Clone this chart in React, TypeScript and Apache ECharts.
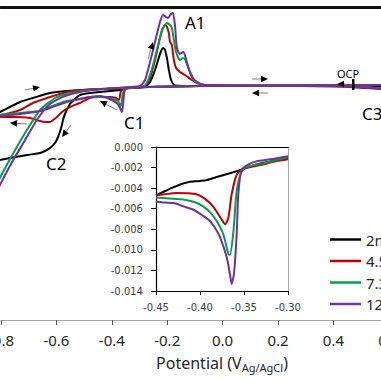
import React, { useEffect, useRef } from "react";
import * as echarts from "echarts";

// ---------- data ----------
const seriesNames = ["2mM", "4.5mM", "7.3mM", "12mM"];
const seriesColors = ["#000000", "#C00000", "#00A04B", "#7030A0"];

const mainXTicks = [-0.8, -0.6, -0.4, -0.2, 0.0, 0.2, 0.4, 0.6];
const insetXTicks = [-0.45, -0.4, -0.35, -0.3];
const insetYTicks = [-0.014, -0.012, -0.01, -0.008, -0.006, -0.004, -0.002, 0.0];

// main CV loops [potential V, current], cathodic sweep then anodic sweep
const loop2 = [
  [0.6, -0.001], [0.572, -0.001], [0.514, -0.0008], [0.28, -0.0005], [-0.082, -0.0005],
  [-0.262, -0.001], [-0.334, -0.0015], [-0.37, -0.0025], [-0.443, -0.0035], [-0.479, -0.004],
  [-0.515, -0.005], [-0.533, -0.007], [-0.551, -0.0095], [-0.569, -0.0145], [-0.576, -0.0175],
  [-0.583, -0.0215], [-0.594, -0.026], [-0.605, -0.029], [-0.623, -0.0315], [-0.641, -0.033],
  [-0.659, -0.034], [-0.706, -0.035], [-0.768, -0.0365], [-0.804, -0.0375], [-0.822, -0.038],
  [-0.822, -0.014], [-0.804, -0.0135], [-0.768, -0.011], [-0.731, -0.0085], [-0.685, -0.0065],
  [-0.623, -0.004], [-0.562, -0.003], [-0.443, -0.002], [-0.323, -0.0015], [-0.28, -0.001],
  [-0.262, 0.0015], [-0.244, 0.0075], [-0.233, 0.0125], [-0.222, 0.017], [-0.215, 0.0185],
  [-0.208, 0.0175], [-0.201, 0.0135], [-0.194, 0.0075], [-0.186, 0.0025], [-0.172, -0.00025],
  [-0.082, -0.0005], [0.28, -0.00025], [0.6, 0],
];
const loop45 = [
  [0.6, -0.002], [0.572, -0.002], [0.514, -0.0015], [0.424, -0.00075], [0.28, -0.0005],
  [-0.082, -0.0005], [-0.262, -0.001], [-0.352, -0.0015], [-0.367, -0.003], [-0.374, -0.0075],
  [-0.385, -0.0065], [-0.407, -0.006], [-0.443, -0.006], [-0.479, -0.0065], [-0.515, -0.009],
  [-0.551, -0.011], [-0.58, -0.0135], [-0.598, -0.016], [-0.612, -0.0175], [-0.623, -0.0185],
  [-0.641, -0.0185], [-0.659, -0.018], [-0.695, -0.0165], [-0.757, -0.016], [-0.804, -0.016],
  [-0.822, -0.016],
  [-0.822, -0.015], [-0.804, -0.015], [-0.731, -0.0125], [-0.685, -0.009], [-0.623, -0.006],
  [-0.562, -0.0035], [-0.504, -0.0025], [-0.443, -0.002], [-0.334, -0.0015], [-0.28, -0.0005],
  [-0.262, 0.0035], [-0.244, 0.0125], [-0.226, 0.0235], [-0.215, 0.0285], [-0.208, 0.03],
  [-0.201, 0.029], [-0.194, 0.026], [-0.19, 0.0215], [-0.183, 0.02], [-0.176, 0.0125],
  [-0.168, 0.0085], [-0.154, 0.0065], [-0.136, 0.005], [-0.111, 0.0025], [-0.092, 0.001],
  [-0.064, 0], [0.28, -0.00025], [0.6, 0],
];
const loop73 = [
  [0.6, -0.0015], [0.572, -0.0015], [0.514, -0.001], [0.424, -0.0005], [0.28, -0.0005],
  [-0.082, -0.0005], [-0.262, -0.001], [-0.349, -0.0015], [-0.36, -0.004], [-0.367, -0.0105],
  [-0.378, -0.008], [-0.407, -0.0065], [-0.443, -0.006], [-0.479, -0.006], [-0.515, -0.007],
  [-0.562, -0.008], [-0.605, -0.01], [-0.641, -0.012], [-0.659, -0.013], [-0.695, -0.0135],
  [-0.731, -0.014], [-0.804, -0.015], [-0.822, -0.0155],
  [-0.822, -0.0525], [-0.804, -0.0465], [-0.749, -0.0325], [-0.702, -0.0215], [-0.659, -0.0125],
  [-0.605, -0.0065], [-0.551, -0.004], [-0.479, -0.0025], [-0.37, -0.0015], [-0.287, -0.001],
  [-0.269, 0.0025], [-0.251, 0.01], [-0.233, 0.02], [-0.219, 0.0275], [-0.208, 0.03],
  [-0.201, 0.031], [-0.19, 0.03], [-0.183, 0.0285], [-0.176, 0.0225], [-0.168, 0.0165],
  [-0.154, 0.0125], [-0.143, 0.0135], [-0.136, 0.013], [-0.125, 0.009], [-0.107, 0.0035],
  [-0.092, 0.001], [-0.064, 0], [0.28, -0.00025], [0.6, 0],
];
const loop12 = [
  [0.6, -0.0015], [0.572, -0.00175], [0.514, -0.00125], [0.424, -0.0005], [0.28, -0.0005],
  [-0.082, -0.0005], [-0.262, -0.001], [-0.349, -0.0015], [-0.356, -0.005], [-0.363, -0.0135],
  [-0.378, -0.0095], [-0.407, -0.007], [-0.443, -0.0055], [-0.479, -0.006], [-0.515, -0.007],
  [-0.562, -0.0085], [-0.623, -0.0115], [-0.659, -0.013], [-0.731, -0.0145], [-0.804, -0.0155],
  [-0.822, -0.016],
  [-0.822, -0.055], [-0.804, -0.05], [-0.76, -0.0385], [-0.713, -0.0275], [-0.666, -0.0165],
  [-0.623, -0.0095], [-0.569, -0.0055], [-0.497, -0.003], [-0.388, -0.0015], [-0.298, -0.0005],
  [-0.28, 0.0025], [-0.262, 0.0115], [-0.244, 0.0215], [-0.226, 0.0315], [-0.215, 0.035],
  [-0.204, 0.034], [-0.197, 0.0335], [-0.186, 0.0355], [-0.179, 0.036], [-0.172, 0.03],
  [-0.165, 0.0185], [-0.154, 0.0155], [-0.143, 0.0165], [-0.136, 0.015], [-0.125, 0.0095],
  [-0.111, 0.004], [-0.092, 0.0015], [-0.064, 0], [0.28, -0.00025], [0.6, 0],
];

// inset (C1 region)
const inset2 = [
  [-0.45, -0.0047], [-0.44, -0.0043], [-0.43, -0.0039], [-0.415, -0.00345], [-0.4, -0.0033],
  [-0.392, -0.0032], [-0.38, -0.0029], [-0.366, -0.00255], [-0.353, -0.0022], [-0.336, -0.0017],
  [-0.32, -0.0014], [-0.3, -0.0011],
];
const inset45 = [
  [-0.45, -0.0047], [-0.44, -0.0046], [-0.427, -0.00447], [-0.415, -0.0045], [-0.404, -0.0046],
  [-0.395, -0.005], [-0.385, -0.0058], [-0.3754, -0.00705], [-0.3716, -0.0075], [-0.3678, -0.0069],
  [-0.364, -0.0046], [-0.3583, -0.0027], [-0.351, -0.0021], [-0.34, -0.0019], [-0.328, -0.0017],
  [-0.315, -0.0014], [-0.3, -0.0012],
];
const inset73 = [
  [-0.45, -0.0049], [-0.435, -0.005], [-0.419, -0.0051], [-0.405, -0.0054], [-0.396, -0.0058],
  [-0.388, -0.0064], [-0.381, -0.0072], [-0.3735, -0.0085], [-0.3678, -0.0104], [-0.366, -0.0105],
  [-0.362, -0.0082], [-0.3583, -0.0043], [-0.3527, -0.0024], [-0.345, -0.0019], [-0.328, -0.0016],
  [-0.315, -0.0013], [-0.3, -0.001],
];
const inset12 = [
  [-0.45, -0.0053], [-0.44, -0.0054], [-0.43, -0.00545], [-0.418, -0.0058], [-0.4076, -0.0061],
  [-0.398, -0.0066], [-0.3886, -0.0072], [-0.382, -0.008], [-0.377, -0.0088], [-0.3697, -0.0107],
  [-0.366, -0.01235], [-0.364, -0.0133], [-0.3614, -0.0123], [-0.3583, -0.0085], [-0.3565, -0.0046],
  [-0.3527, -0.0022], [-0.345, -0.0017], [-0.336, -0.0014], [-0.32, -0.0012], [-0.3, -0.0009],
];

const mainLoops = [loop2, loop45, loop73, loop12];
const insetCurves = [inset2, inset45, inset73, inset12];

// ---------- annotations (pixel layout) ----------
const FONT = "'Noto Sans', sans-serif";
const peakLabels = [
  { text: "A1", x: 185, y: 22, size: 17 },
  { text: "C1", x: 124, y: 122, size: 17 },
  { text: "C2", x: 46, y: 163, size: 17 },
  { text: "C3", x: 362, y: 113, size: 17 },
  { text: "OCP", x: 337, y: 73, size: 11 },
];
const arrowSpecs = [
  [25, 90, 40, 87],
  [27, 124, 10, 123],
  [117, 110, 100, 101],
  [71, 125, 62, 137],
  [148, 59, 153, 42],
  [252, 79, 268, 79],
  [268, 93, 252, 93],
  [345, 84, 337, 84],
];

function arrow(x1: number, y1: number, x2: number, y2: number) {
  const dx = x2 - x1, dy = y2 - y1;
  const len = Math.sqrt(dx * dx + dy * dy) || 1;
  const ux = dx / len, uy = dy / len;
  const hl = 7, hw = 3.3;
  const bx = x2 - ux * hl, by = y2 - uy * hl;
  return [
    {
      type: "line",
      shape: { x1, y1, x2: bx, y2: by },
      style: { stroke: "#7f7f7f", lineWidth: 1 },
      z: 20,
    },
    {
      type: "polygon",
      shape: {
        points: [
          [x2, y2],
          [bx - uy * hw, by + ux * hw],
          [bx + uy * hw, by - ux * hw],
        ],
      },
      style: { fill: "#000" },
      z: 20,
    },
  ];
}

export default function App() {
  const ref = useRef<HTMLDivElement>(null);
  useEffect(() => {
    if (!ref.current) return;
    const chart = echarts.init(ref.current, null, { renderer: "svg" });

    const graphics: any[] = [];
    arrowSpecs.forEach((a) => graphics.push(...arrow(a[0], a[1], a[2], a[3])));
    peakLabels.forEach((l) =>
      graphics.push({
        type: "text",
        x: l.x,
        y: l.y,
        z: 20,
        style: {
          text: l.text,
          fill: "#000",
          font: `${l.size}px ${FONT}`,
          verticalAlign: "middle",
          align: "left",
        },
      })
    );
    // OCP marker
    graphics.push({
      type: "rect",
      shape: { x: 352, y: 79, width: 2.5, height: 11 },
      style: { fill: "#000" },
      z: 20,
    });
    // axis title
    graphics.push({
      type: "text",
      x: 222,
      y: 363,
      style: {
        text: "{m|Potential (V}{s|Ag/AgCl}{m|)}",
        align: "center",
        verticalAlign: "middle",
        rich: {
          m: { fontSize: 16, fontFamily: FONT, fill: "#262626", lineHeight: 20 },
          s: { fontSize: 11, fontFamily: FONT, fill: "#262626", lineHeight: 20, padding: [8, 0, 0, 0] },
        },
      },
    });

    const series: any[] = [];
    mainLoops.forEach((d, i) =>
      series.push({
        type: "line",
        name: seriesNames[i],
        data: d,
        xAxisIndex: 0,
        yAxisIndex: 0,
        showSymbol: false,
        smooth: 0.2,
        lineStyle: { color: seriesColors[i], width: 2 },
        itemStyle: { color: seriesColors[i] },
        z: 3 + i,
      })
    );
    insetCurves.forEach((d, i) =>
      series.push({
        type: "line",
        name: seriesNames[i],
        data: d,
        xAxisIndex: 2,
        yAxisIndex: 1,
        showSymbol: false,
        smooth: 0.25,
        lineStyle: { color: seriesColors[i], width: 2 },
        itemStyle: { color: seriesColors[i] },
        z: 10 + i,
      })
    );

    chart.setOption({
      animation: false,
      backgroundColor: "#fff",
      grid: [
        { left: 1, top: 7, width: 387.8, height: 313, outerBoundsMode: "none", containLabel: false },
        {
          left: 156, top: 147, width: 132, height: 144, show: true, backgroundColor: "#fff",
          borderWidth: 0, z: 8, outerBoundsMode: "none", containLabel: false,
        },
      ],
      legend: {
        data: seriesNames,
        orient: "vertical",
        left: 325,
        top: 227,
        itemWidth: 31,
        itemHeight: 2.5,
        itemGap: 6.5,
        icon: "rect",
        selectedMode: false,
        textStyle: { fontSize: 15, fontFamily: FONT, color: "#262626" },
      },
      xAxis: [
        {
          type: "value",
          gridIndex: 0,
          position: "bottom",
          min: mainXTicks[0],
          max: mainXTicks[mainXTicks.length - 1],
          interval: 0.2,
          axisLine: { onZero: false, lineStyle: { color: "#a6a6a6", width: 1 } },
          axisTick: { show: true, length: 5, lineStyle: { color: "#595959" } },
          axisLabel: {
            show: true,
            showMinLabel: true,
            showMaxLabel: true,
            margin: 12,
            fontSize: 15,
            fontFamily: FONT,
            color: "#262626",
            formatter: (v: number) => v.toFixed(1),
          },
          splitLine: { show: false },
        },
        {
          type: "value",
          gridIndex: 0,
          position: "top",
          min: mainXTicks[0],
          max: mainXTicks[mainXTicks.length - 1],
          axisLine: { show: true, onZero: false, lineStyle: { color: "#111", width: 3 } },
          axisTick: { show: false },
          axisLabel: { show: false },
          splitLine: { show: false },
        },
        {
          type: "value",
          gridIndex: 1,
          position: "bottom",
          min: insetXTicks[0],
          max: insetXTicks[insetXTicks.length - 1],
          interval: 0.05,
          axisLine: { onZero: false, lineStyle: { color: "#000", width: 1.2 } },
          axisTick: { show: true, length: 4, lineStyle: { color: "#000" } },
          axisLabel: {
            margin: 11,
            fontSize: 10,
            fontFamily: "'DejaVu Sans', sans-serif",
            color: "#404040",
            showMinLabel: true,
            showMaxLabel: true,
            formatter: (v: number) => v.toFixed(2),
          },
          splitLine: { show: false },
          z: 9,
        },
        {
          type: "value",
          gridIndex: 1,
          position: "top",
          min: insetXTicks[0],
          max: insetXTicks[insetXTicks.length - 1],
          axisLine: { show: true, onZero: false, lineStyle: { color: "#000", width: 1.2 } },
          axisTick: { show: false },
          axisLabel: { show: false },
          splitLine: { show: false },
          z: 9,
        },
      ],
      yAxis: [
        {
          type: "value",
          gridIndex: 0,
          min: -0.1175,
          max: 0.039,
          show: false,
          splitLine: { show: false },
        },
        {
          type: "value",
          gridIndex: 1,
          position: "left",
          min: insetYTicks[0],
          max: insetYTicks[insetYTicks.length - 1],
          interval: 0.002,
          axisLine: { show: true, onZero: false, lineStyle: { color: "#000", width: 1.2 } },
          axisTick: { show: true, length: 5, lineStyle: { color: "#000" } },
          axisLabel: {
            margin: 13,
            fontSize: 10,
            fontFamily: "'DejaVu Sans', sans-serif",
            color: "#404040",
            showMinLabel: true,
            showMaxLabel: true,
            formatter: (v: number) => v.toFixed(3),
          },
          splitLine: { show: false },
          z: 9,
        },
        {
          type: "value",
          gridIndex: 1,
          position: "right",
          min: insetYTicks[0],
          max: insetYTicks[insetYTicks.length - 1],
          axisLine: { show: true, onZero: false, lineStyle: { color: "#a6a6a6", width: 1 } },
          axisTick: { show: false },
          axisLabel: { show: false },
          splitLine: { show: false },
          z: 9,
        },
      ],
      graphic: graphics,
      series,
    });
    return () => chart.dispose();
  }, []);

  return (
    <div
      style={{
        position: "absolute",
        left: 0,
        top: 0,
        width: 381,
        height: 381,
        overflow: "hidden",
        background: "#fff",
      }}
    >
      <div ref={ref} style={{ width: 400, height: 381 }} />
    </div>
  );
}
